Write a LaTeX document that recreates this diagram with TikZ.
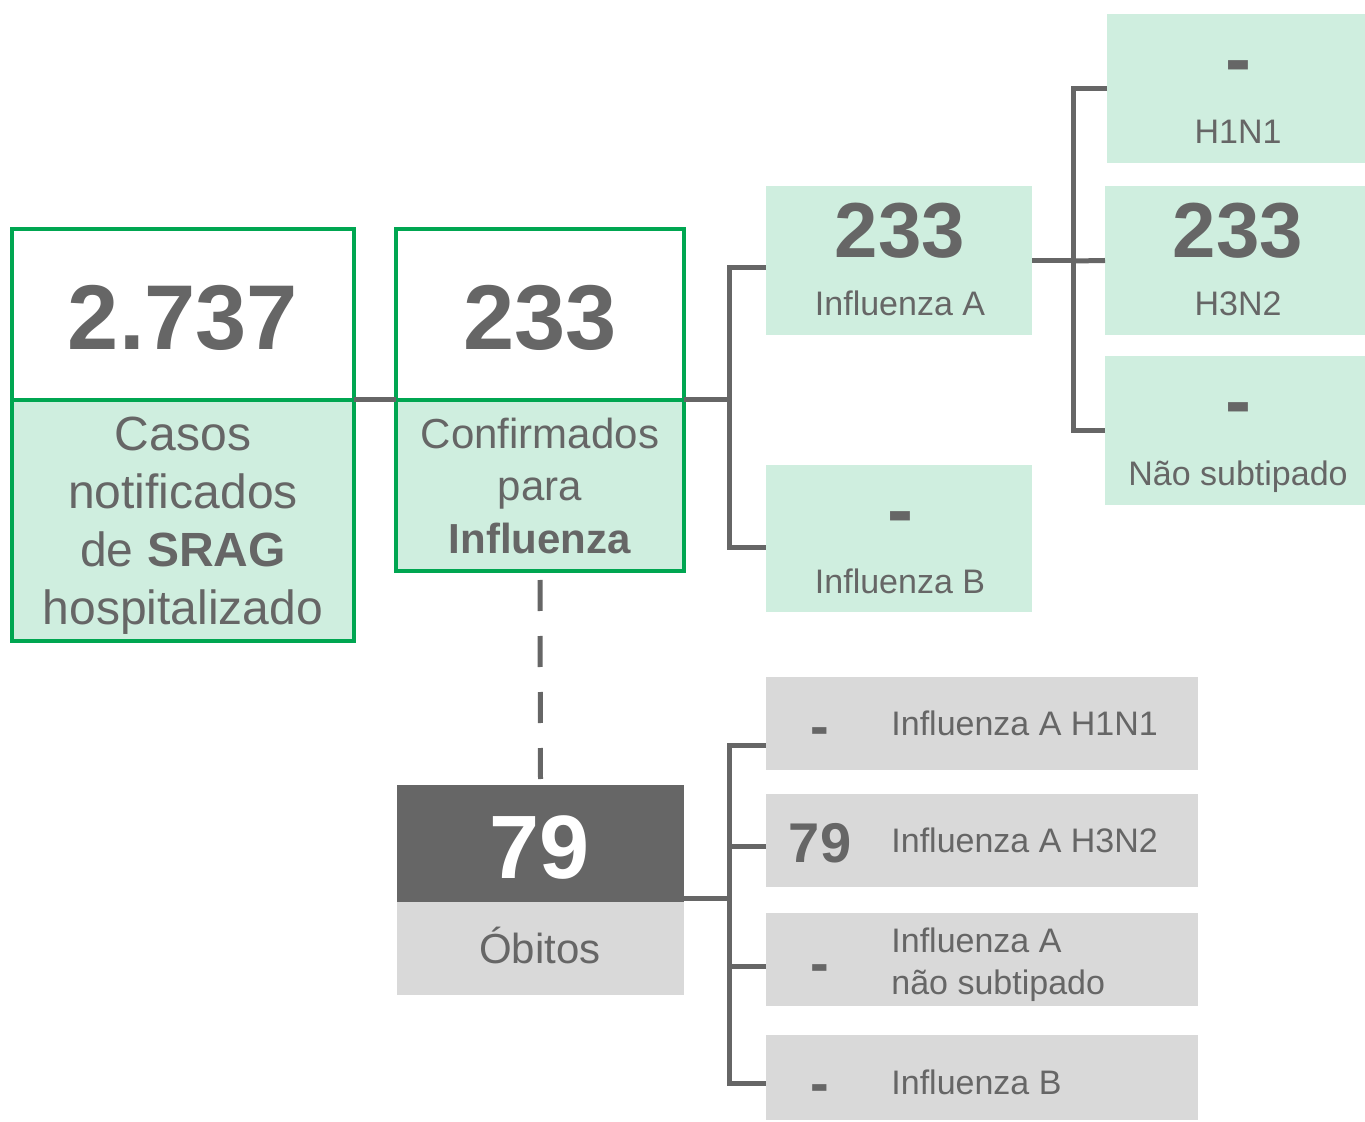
\documentclass[tikz,border=0pt]{standalone}
\usepackage{fontspec}
\setmainfont{Liberation Sans}
\usetikzlibrary{fit}
\definecolor{grn}{HTML}{00A651}
\definecolor{lgrn}{HTML}{CFEEDF}
\definecolor{txt}{HTML}{666666}
\definecolor{lgray}{HTML}{D9D9D9}
\begin{document}
\begin{tikzpicture}[x=0.5pt,y=-0.5pt,
  conn/.style={draw=txt, line width=2.5pt},
  gbox/.style={draw=grn, line width=2pt, inner sep=0pt, outer sep=0pt, rectangle},
  fbox/.style={fill=lgrn, inner sep=0pt, outer sep=0pt, rectangle},
  dbox/.style={fill=lgray, inner sep=0pt, outer sep=0pt, rectangle},
  lbl/.style={text=txt, inner sep=0pt, anchor=base},
  big/.style={lbl, font=\fontsize{46}{50}\selectfont\bfseries},
  mid/.style={lbl, font=\fontsize{39}{44}\selectfont\bfseries},
  sml/.style={lbl, font=\fontsize{28}{32}\selectfont\bfseries},
  lab/.style={lbl, font=\fontsize{17}{21}\selectfont}]
\useasboundingbox (0,0) rectangle (1365,1122);

% --- main green boxes
\node[gbox, fill=white, fit={(12,229)(354,400)}] (b1top) {};
\node[gbox, fill=lgrn, fit={(12,400)(354,641)}] (b1bot) {};
\node[gbox, fill=white, fit={(396,229)(684,400)}] (b2top) {};
\node[gbox, fill=lgrn, fit={(396,400)(684,571)}] (b2bot) {};
\node[big] (n1) at (183,350) {2.737};
\node[text=txt, inner sep=0pt, align=center, font=\fontsize{24}{29}\selectfont] (t1) at ([yshift=-2.5pt]b1bot.center) {Casos\\notificados\\de \textbf{SRAG}\\hospitalizado};
\node[big] (n2) at (540,350) {233};
\node[text=txt, inner sep=0pt, align=center, font=\fontsize{21}{26.25}\selectfont] (t2) at (b2bot.center) {Confirmados\\para\\\textbf{Influenza}};

% --- influenza type boxes
\node[fbox, fit={(766,186)(1032,335)}] (infA) {};
\node[fbox, fit={(766,465)(1032,612)}] (infB) {};
\node[mid] (nA) at (900,258) {233};
\node[lab] (tA) at (900,316) {Influenza A};
\node[mid] (nB) at (900,537) {-};
\node[lab] (tB) at (900,594) {Influenza B};

% --- subtype boxes
\node[fbox, fit={(1107,14)(1365,163)}] (h1) {};
\node[fbox, fit={(1105,186)(1365,335)}] (h3) {};
\node[fbox, fit={(1105,356)(1365,505)}] (ns) {};
\node[mid] (nh1) at (1238,86) {-};
\node[lab] (th1) at (1238,144) {H1N1};
\node[mid] (nh3) at (1238,258) {233};
\node[lab] (th3) at (1238,316) {H3N2};
\node[mid] (nns) at (1238,428) {-};
\node[lab] (tns) at (1238,486) {Não subtipado};

% --- deaths
\node[rectangle, fill=txt, inner sep=0pt, outer sep=0pt, fit={(397,785)(684,902)}] (obTop) {};
\node[dbox, fit={(397,902)(684,995)}] (obBot) {};
\node[lbl, text=white, font=\fontsize{45}{50}\selectfont\bfseries] (n79) at (540,878) {79};
\node[lbl, font=\fontsize{21}{25}\selectfont] (tob) at (540,963) {Óbitos};

\node[dbox, fit={(766,677)(1198,770)}] (d1) {};
\node[dbox, fit={(766,794)(1198,887)}] (d2) {};
\node[dbox, fit={(766,913)(1198,1006)}] (d3) {};
\node[dbox, fit={(766,1035)(1198,1120)}] (d4) {};
\node[sml] (dn1) at (820,745) {-};
\node[sml] (dn2) at (820,862) {79};
\node[sml] (dn3) at (820,982) {-};
\node[sml] (dn4) at (820,1102) {-};
\node[lab, anchor=base west] (dt1) at (891,735) {Influenza A H1N1};
\node[lab, anchor=base west] (dt2) at (891,852) {Influenza A H3N2};
\node[lab, anchor=west, align=left] (dt3) at (891,965) {Influenza A\\não subtipado};
\node[lab, anchor=base west] (dt4) at (891,1094) {Influenza B};

% --- connectors
\coordinate (j1) at (729,400);
\coordinate (j2) at (1073,261);
\coordinate (j3) at (729,898);
\draw[conn] (b1bot.north east) -- (b2bot.north west);
\draw[conn] (b2bot.north east) -- (j1);
\draw[conn] ([yshift=-3.75pt]infA.west) -| (j1) |- ([yshift=-4.75pt]infB.west);
\draw[conn] (infA.east) -- (infA.east -| j2);
\draw[conn] (h1.west) -| (j2) |- (ns.west);
\draw[conn] (j2) -- (h3.west);
\draw[conn, dash pattern=on 15.5pt off 12.5pt] ([yshift=-4.5pt]b2bot.south) -- ([yshift=2.5pt]obTop.north);
\draw[conn] ([yshift=2pt]obTop.south east) -- (j3);
\draw[conn] ([yshift=-10.75pt]d1.west) -| (j3) |- ([yshift=-2.75pt]d4.west);
\draw[conn] ([yshift=-2.75pt]d2.west) -- ([yshift=-2.75pt]d2.west -| j3);
\draw[conn] ([yshift=-3.25pt]d3.west) -- ([yshift=-3.25pt]d3.west -| j3);
\end{tikzpicture}
\end{document}
